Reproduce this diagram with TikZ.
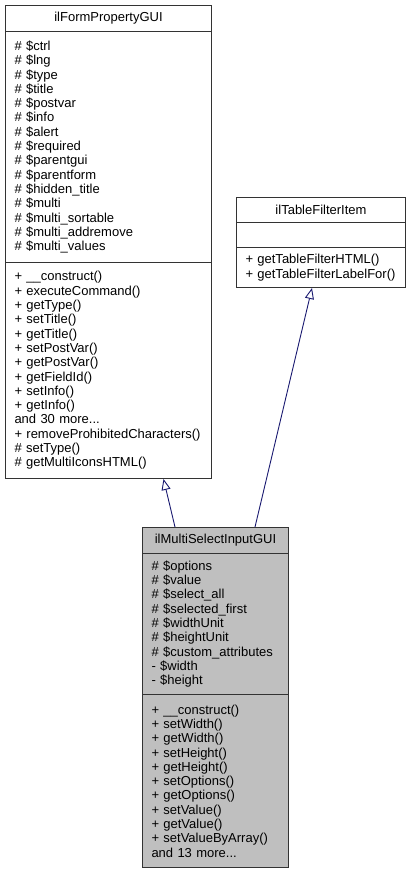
\documentclass[tikz,border=0pt]{standalone}
\usepackage{fontspec}
\setmainfont{Liberation Sans}
\usetikzlibrary{arrows.meta}
\definecolor{edgeblue}{HTML}{191970}
\definecolor{boxgray}{HTML}{BFBFBF}
\begin{document}
\begin{tikzpicture}[x=1pt,y=-1pt]
	\tikzset{every node/.style=
        {draw=black!80, line width=1pt, anchor=north west, inner xsep=9pt, inner ysep=4pt,
         font=\fontsize{13}{14.3}\selectfont},
        hdr/.style={align=center, minimum height=26pt},
        body/.style={align=left},
        edge/.style={draw=edgeblue, line width=0.9pt, -{Triangle[open,length=11pt,width=9pt]}}
     }
	\useasboundingbox (0,0) rectangle (413,873);
	% parent class
	\node (p1t) at (5,5) [hdr, minimum width=206pt] {ilFormPropertyGUI};
	\node (p1a) at (5,31) [body, text width=188pt, minimum height=231pt]
		{\# \$ctrl\\\# \$lng\\\# \$type\\\# \$title\\\# \$postvar\\\# \$info\\\# \$alert\\\# \$required\\\# \$parentgui\\\# \$parentform\\\# \$hidden\_title\\\# \$multi\\\# \$multi\_sortable\\\# \$multi\_addremove\\\# \$multi\_values};
	\node (p1m) at (5,262) [body, text width=188pt, minimum height=216pt]
		{+ \_\_construct()\\+ executeCommand()\\+ getType()\\+ setTitle()\\+ getTitle()\\+ setPostVar()\\+ getPostVar()\\+ getFieldId()\\+ setInfo()\\+ getInfo()\\and 30 more...\\+ removeProhibitedCharacters()\\\# setType()\\\# getMultiIconsHTML()};
	% interface
	\node (p2t) at (236,197) [hdr, minimum width=169pt, minimum height=25pt] {ilTableFilterItem};
	\node (p2a) at (236,222) [body, text width=151pt, minimum height=25pt] {};
	\node (p2m) at (236,247) [body, text width=151pt, minimum height=40pt]
		{+ getTableFilterHTML()\\+ getTableFilterLabelFor()};
	% child class
	\node[fill=boxgray] (ct) at (142,527) [hdr, minimum width=146pt] {ilMultiSelectInputGUI};
	\node[fill=boxgray] (ca) at (142,553) [body, text width=128pt, minimum height=141pt]
		{\# \$options\\\# \$value\\\# \$select\_all\\\# \$selected\_first\\\# \$widthUnit\\\# \$heightUnit\\\# \$custom\_attributes\\- \$width\\- \$height};
	\node[fill=boxgray] (cm) at (142,694) [body, text width=128pt, minimum height=173pt]
		{+ \_\_construct()\\+ setWidth()\\+ getWidth()\\+ setHeight()\\+ getHeight()\\+ setOptions()\\+ getOptions()\\+ setValue()\\+ getValue()\\+ setValueByArray()\\and 13 more...};
	\draw[edge] ([xshift=33pt]ct.north west) -- ([xshift=55pt]p1m.south);
	\draw[edge] ([xshift=113pt]ct.north west) -- ([xshift=-9pt]p2m.south);
\end{tikzpicture}
\end{document}
